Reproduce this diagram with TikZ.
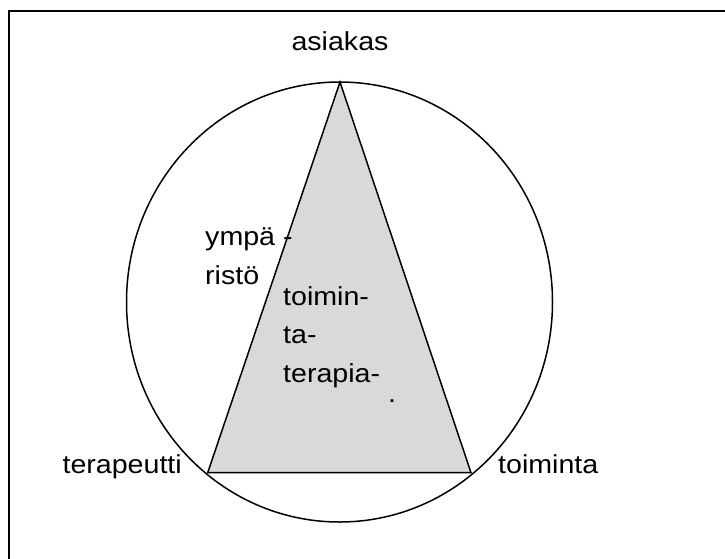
\documentclass[tikz,border=0pt]{standalone}
\usepackage{fontspec}
\setmainfont{Liberation Sans}[FakeStretch=1.1]
\definecolor{tri}{RGB}{217,217,217}
\tikzset{
  lbl/.style={inner sep=0pt, font=\fontsize{26}{31}\selectfont},
  frame/.style={line width=2pt},
  outline/.style={line width=1.5pt}
}
\begin{document}
\begin{tikzpicture}[x=1pt,y=-1pt]
\useasboundingbox (0,0) rectangle (725,558);
\begin{scope}
\clip (0,0) rectangle (725,558);
\draw[frame] (9,11) rectangle (740,570);
\end{scope}
\draw[outline] (339.5,302) ellipse [x radius=213, y radius=220];
\coordinate (A) at (340,82);
\coordinate (T) at (207.7,472.7);
\coordinate (O) at (471,472.7);
\draw[outline, fill=tri, line join=miter] (A) -- (T) -- (O) -- cycle;
\node[lbl, anchor=base] (asiakas) at (340,50) {asiakas};
\node[lbl, anchor=base east] (terapeutti) at (182,473) {terapeutti};
\node[lbl, anchor=base west] (toiminta) at (498,473) {toiminta};
\node[lbl, anchor=base west] (ympa) at (205,245) {ympä -};
\node[lbl, anchor=base west] (risto) at (205,284) {ristö};
\node[lbl, anchor=base west] (t1) at (283,305) {toimin-};
\node[lbl, anchor=base west] (t2) at (283,343) {ta-};
\node[lbl, anchor=base west] (t3) at (283,382) {terapia-};
\node[lbl, anchor=base west] (dot) at (388,402) {.};
\end{tikzpicture}
\end{document}
